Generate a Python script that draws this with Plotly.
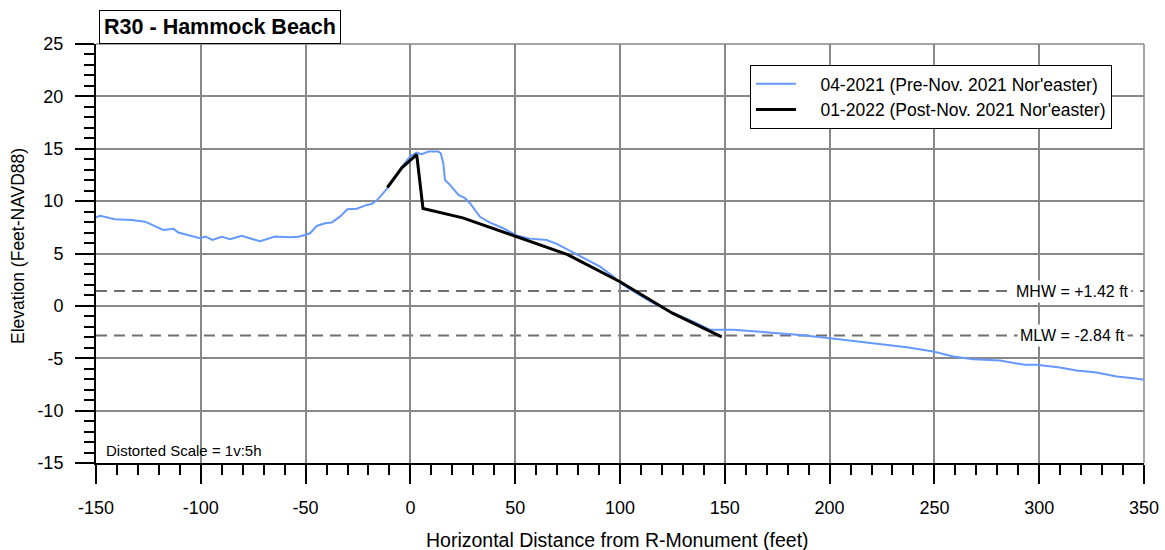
import plotly.graph_objects as go

# Beach profile surveys, R30 - Hammock Beach
pre_x = [-150, -148, -141, -133, -126.6, -121, -117.9, -113, -110.7, -100.4, -97.7, -94.5,
         -90, -86, -80.5, -71.8, -64.6, -57.4, -53.5, -50.3, -47.9, -44.7, -40.7, -37.6,
         -33.6, -30.1, -25.6, -20.8, -18.5, -16.1, -11.3, -6.5, -3.4, -0.2, 3.0, 5.4, 8.6,
         13.3, 14.5, 15.7, 16.5, 18.9, 22.9, 26.0, 28.4, 33.2, 38.0, 44.3, 50.7, 57.1, 65.0,
         69.8, 80.9, 90.5, 96.8, 100.0, 105, 115, 125, 135, 143, 154, 165.2, 170, 185.9,
         200.2, 217.7, 236.8, 249.5, 259, 268.6, 281.3, 293.2, 298.8, 309.9, 317.9, 327.4,
         337, 345, 350]
pre_y = [8.45, 8.6, 8.27, 8.2, 8.04, 7.57, 7.25, 7.35, 7.0, 6.46, 6.62, 6.3,
         6.6, 6.36, 6.68, 6.17, 6.62, 6.55, 6.6, 6.77, 6.93, 7.63, 7.89, 7.95,
         8.52, 9.22, 9.28, 9.64, 9.73, 10.05, 11.15, 12.5, 13.45, 14.25, 14.63, 14.47, 14.73,
         14.73, 14.57, 13.6, 12.02, 11.55, 10.6, 10.28, 9.8, 8.5, 7.95, 7.41, 6.72, 6.42, 6.28,
         5.92, 4.77, 3.75, 2.8, 2.2, 1.55, 0.35, -0.65, -1.5, -2.29, -2.29, -2.45, -2.51, -2.77,
         -3.08, -3.5, -3.94, -4.36, -4.84, -5.09, -5.22, -5.63, -5.63, -5.89, -6.17, -6.36,
         -6.74, -6.9, -7.06]

post_x = [-11, -4, 3, 6, 25, 75, 100, 125, 148.5]
post_y = [11.3, 13.2, 14.45, 9.3, 8.4, 4.9, 2.3, -0.7, -2.95]

tidal_datums = {"MHW": 1.42, "MLW": -2.84}
datum_labels = ["MHW = +1.42 ft", "MLW = -2.84 ft"]

x_ticks = [-150, -100, -50, 0, 50, 100, 150, 200, 250, 300, 350]
x_tick_text = ["-150", "-100", "-50", "0", "50", "100", "150", "200", "250", "300", "350"]
y_ticks = [-15, -10, -5, 0, 5, 10, 15, 20, 25]
y_tick_text = ["-15", "-10", "-5", "0", "5", "10", "15", "20", "25"]

FONT = "Arial, Liberation Sans, sans-serif"
PAD = "\u00a0\u00a0\u00a0\u00a0"

fig = go.Figure()
fig.add_trace(go.Scatter(x=pre_x, y=pre_y, mode="lines",
                         name=PAD + "04-2021 (Pre-Nov. 2021 Nor'easter)",
                         line=dict(color="#6699ff", width=2)))
fig.add_trace(go.Scatter(x=post_x, y=post_y, mode="lines",
                         name=PAD + "01-2022 (Post-Nov. 2021 Nor'easter)",
                         line=dict(color="black", width=3)))

for (name, level), label in zip(tidal_datums.items(), datum_labels):
    fig.add_shape(type="line", xref="x", yref="y", x0=-150, x1=350, y0=level, y1=level,
                  line=dict(color="#707070", width=2, dash="11px,7px"), layer="below")
    fig.add_annotation(x=316, y=level, xref="x", yref="y", text=label, showarrow=False,
                       bgcolor="white", font=dict(family=FONT, size=16, color="black"),
                       borderpad=2)

# plot frame on top/right drawn as grid-coloured lines
fig.add_shape(type="line", xref="paper", yref="paper", x0=0, x1=1, y0=1, y1=1,
              line=dict(color="#888888", width=1.5), layer="below")
fig.add_shape(type="line", xref="paper", yref="paper", x0=1, x1=1, y0=0, y1=1,
              line=dict(color="#888888", width=1.5), layer="below")

fig.add_annotation(xref="paper", yref="paper", x=0.003, y=1.0, xanchor="left", yanchor="bottom",
                   text="<b>R30 - Hammock Beach</b>", showarrow=False,
                   font=dict(family=FONT, size=21.5, color="black"),
                   bordercolor="black", borderwidth=1, bgcolor="white",
                   width=238, height=30, borderpad=1)

fig.add_annotation(xref="paper", yref="paper", x=0.008, y=0.031, xanchor="left", yanchor="middle",
                   text="Distorted Scale = 1v:5h", showarrow=False,
                   font=dict(family=FONT, size=15, color="black"))

# axis titles
fig.add_annotation(xref="paper", yref="paper", x=0.498, y=-0.184, xanchor="center", yanchor="middle",
                   text="Horizontal Distance from R-Monument (feet)", showarrow=False,
                   font=dict(family=FONT, size=19.5, color="black"))
fig.add_annotation(xref="paper", yref="paper", x=-0.0744, y=0.518, xanchor="center", yanchor="middle",
                   text="Elevation (Feet-NAVD88)", showarrow=False, textangle=-90,
                   font=dict(family=FONT, size=17.5, color="black"))

axis_common = dict(
    showgrid=True, gridcolor="#888888", gridwidth=1.5,
    showline=True, linecolor="black", linewidth=2,
    ticks="outside", tickcolor="black", tickwidth=2, ticklen=19,
    tickfont=dict(family=FONT, size=18, color="black"),
    zeroline=False, mirror=False, automargin=False, ticklabelstandoff=8,
)

fig.update_xaxes(range=[-150, 350], tickmode="array", tickvals=x_ticks, ticktext=x_tick_text,
                 minor=dict(tickmode="linear", tick0=-150, dtick=10, ticks="outside", ticklen=10,
                            tickcolor="black", tickwidth=2, showgrid=False),
                 **axis_common)
fig.update_yaxes(range=[-15, 25], tickmode="array", tickvals=y_ticks, ticktext=y_tick_text,
                 minor=dict(tickmode="linear", tick0=-15, dtick=1, ticks="outside", ticklen=10,
                            tickcolor="black", tickwidth=2, showgrid=False),
                 **axis_common)

fig.update_layout(
    width=1165, height=550,
    margin=dict(l=96, r=21, t=44, b=87),
    paper_bgcolor="white", plot_bgcolor="white",
    font=dict(family=FONT, color="black"),
    showlegend=True,
    legend=dict(x=0.624, y=0.95, xanchor="left", yanchor="top",
                bordercolor="black", borderwidth=1, bgcolor="white",
                font=dict(family=FONT, size=17.5, color="black"),
                tracegroupgap=0, itemwidth=40),
)

fig.write_html("out.html")
